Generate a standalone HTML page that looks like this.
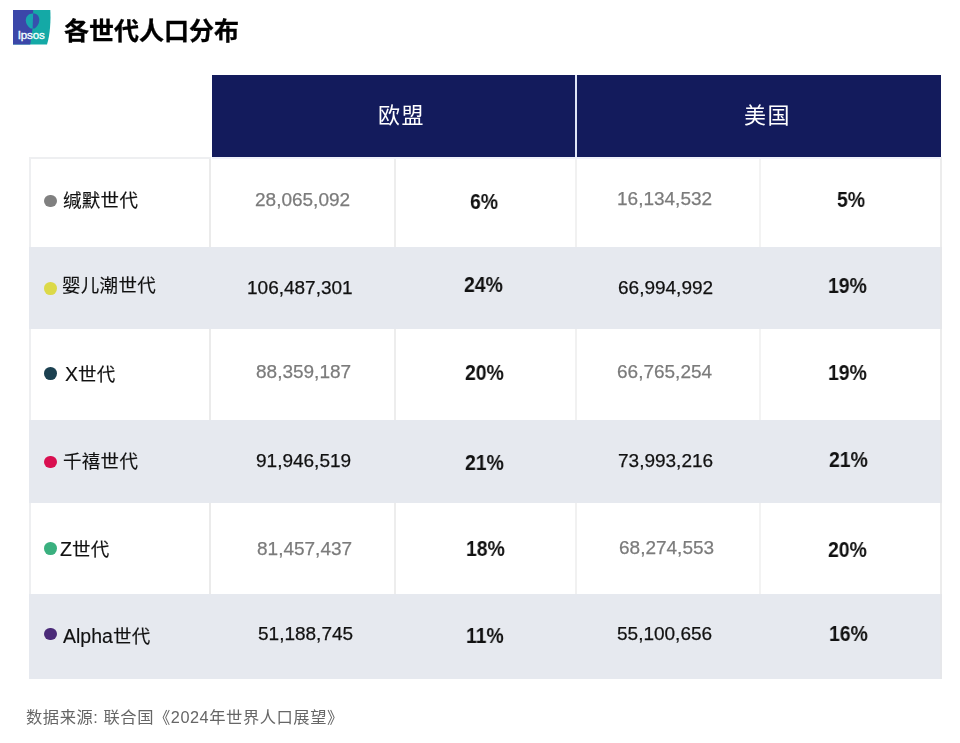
<!DOCTYPE html>
<html lang="zh-CN">
<head>
<meta charset="utf-8">
<title>各世代人口分布</title>
<style>
html,body{margin:0;padding:0;background:#fff;}
body{width:960px;height:743px;position:relative;overflow:hidden;font-family:"Liberation Sans","Noto Sans CJK SC",sans-serif;color:#111;}
.abs{position:absolute;}
.t{position:absolute;white-space:nowrap;line-height:1;will-change:transform;}
.hd{background:#131b5c;}
.gr{background:#e6e9ef;}
.vl{position:absolute;width:2px;background:#eeeeee;}
.hl{position:absolute;height:2px;background:#eeeeee;}
.dot{position:absolute;width:13px;height:13px;border-radius:50%;}
.lab{-webkit-text-stroke:0.15px currentColor;font-size:18.5px;letter-spacing:0.3px;color:#111;font-family:"Noto Sans CJK SC",sans-serif;}
.lab span{font-family:"Liberation Sans",sans-serif;font-size:19.5px;letter-spacing:0;}
.num{font-size:19px;-webkit-text-stroke:0.25px currentColor;}
.g{color:#7b7b7b;}
.k{color:#111;}
.pct{font-size:22px;font-weight:bold;color:#111;transform:scaleX(0.88);transform-origin:0 0;}
.hdt{font-size:22px;letter-spacing:1.5px;color:#fff;font-family:"Noto Sans CJK SC",sans-serif;}
.ttl{font-size:25px;font-weight:bold;color:#000;-webkit-text-stroke:0.3px #000;font-family:"Noto Sans CJK SC",sans-serif;}
.foot{font-size:16.3px;letter-spacing:0.55px;color:#666;}
</style>
</head>
<body>
<svg class="abs" style="left:13px;top:10px" width="39" height="36" viewBox="0 0 39 36">
  <path d="M0 0 H37.3 C37.9 10 37.2 24 34 34.6 H0 Z" fill="#14a9a6"/>
  <path d="M0 0 H20.2 L19.6 18 L17.2 34.6 H0 Z" fill="#3b47a9"/>
  <path d="M20.1 3.6 C16 3.4 12.8 6.2 12.8 10.6 C12.8 14 15 16.6 17.6 18.6 L19.8 18.6 Z" fill="#18a5b0"/>
  <path d="M20.1 3.4 C24 3.3 26.3 6 26.3 10 C26.3 14 24 16.6 21.6 18.4 L19.8 18.4 Z" fill="#3650ad"/>
  <text x="4.7" y="29" font-family="Liberation Sans" font-size="11.6" fill="#f2ffff" stroke="#f2ffff" stroke-width="0.35" letter-spacing="-0.15">Ipsos</text>
</svg>
<div class="t ttl" style="left:63.6px;top:16.7px">各世代人口分布</div>
<div class="abs hd" style="left:212px;top:74.5px;width:363px;height:82px"></div>
<div class="abs hd" style="left:577px;top:74.5px;width:364px;height:82px"></div>
<div class="t hdt" style="left:378.4px;top:101.9px">欧盟</div>
<div class="t hdt" style="left:744.0px;top:101.7px">美国</div>
<div class="abs gr" style="left:29px;top:247px;width:911px;height:82px"></div>
<div class="abs gr" style="left:29px;top:420px;width:911px;height:83px"></div>
<div class="abs gr" style="left:29px;top:593.5px;width:911px;height:85px"></div>
<div class="abs" style="left:29px;top:157px;width:2px;height:90px;background:#eeeff1"></div>
<div class="abs" style="left:209px;top:157px;width:2px;height:90px;background:#ebebeb"></div>
<div class="abs" style="left:393.5px;top:157px;width:2px;height:90px;background:#ededed"></div>
<div class="abs" style="left:575px;top:157px;width:2px;height:90px;background:#f1f1f1"></div>
<div class="abs" style="left:759px;top:157px;width:2px;height:90px;background:#f3f3f3"></div>
<div class="abs" style="left:940px;top:157px;width:2px;height:90px;background:#ececec"></div>
<div class="abs" style="left:29px;top:329px;width:2px;height:91px;background:#eeeff1"></div>
<div class="abs" style="left:209px;top:329px;width:2px;height:91px;background:#ebebeb"></div>
<div class="abs" style="left:393.5px;top:329px;width:2px;height:91px;background:#ededed"></div>
<div class="abs" style="left:575px;top:329px;width:2px;height:91px;background:#f1f1f1"></div>
<div class="abs" style="left:759px;top:329px;width:2px;height:91px;background:#f3f3f3"></div>
<div class="abs" style="left:940px;top:329px;width:2px;height:91px;background:#ececec"></div>
<div class="abs" style="left:29px;top:503px;width:2px;height:90.5px;background:#eeeff1"></div>
<div class="abs" style="left:209px;top:503px;width:2px;height:90.5px;background:#ebebeb"></div>
<div class="abs" style="left:393.5px;top:503px;width:2px;height:90.5px;background:#ededed"></div>
<div class="abs" style="left:575px;top:503px;width:2px;height:90.5px;background:#f1f1f1"></div>
<div class="abs" style="left:759px;top:503px;width:2px;height:90.5px;background:#f3f3f3"></div>
<div class="abs" style="left:940px;top:503px;width:2px;height:90.5px;background:#ececec"></div>
<div class="abs" style="left:940px;top:247px;width:2px;height:82px;background:#e6e7ea"></div>
<div class="abs" style="left:940px;top:420px;width:2px;height:83px;background:#e6e7ea"></div>
<div class="abs" style="left:940px;top:593.5px;width:2px;height:85.0px;background:#e6e7ea"></div>
<div class="abs" style="left:29px;top:157px;width:182px;height:2px;background:#eeeff1"></div>
<div class="abs" style="left:212px;top:156.5px;width:729px;height:2px;background:#f0f2fa"></div>
<div class="abs" style="left:575px;top:74.5px;width:2px;height:82px;background:#dfe5f7"></div>
<div class="dot" style="left:44.2px;top:194.6px;width:12.8px;height:12.8px;background:#808080"></div>
<div class="t lab" style="left:62.7px;top:190.0px">缄默世代</div>
<div class="t num g" style="left:255.45px;top:189.7px">28,065,092</div>
<div class="t pct" style="left:469.75px;top:190.7px">6%</div>
<div class="t num g" style="left:617.3px;top:188.7px">16,134,532</div>
<div class="t pct" style="left:836.95px;top:189.0px">5%</div>
<div class="dot" style="left:44.300000000000004px;top:281.90000000000003px;width:12.8px;height:12.8px;background:#dcd948"></div>
<div class="t lab" style="left:62.1px;top:275.3px">婴儿潮世代</div>
<div class="t num k" style="left:247.15px;top:277.6px">106,487,301</div>
<div class="t pct" style="left:464.35px;top:273.9px">24%</div>
<div class="t num k" style="left:618.05px;top:277.6px">66,994,992</div>
<div class="t pct" style="left:827.8px;top:274.5px">19%</div>
<div class="dot" style="left:44.300000000000004px;top:367.1px;width:12.8px;height:12.8px;background:#1b4050"></div>
<div class="t lab" style="left:65.0px;top:363.5px"><span>X</span>世代</div>
<div class="t num g" style="left:256.15px;top:361.7px">88,359,187</div>
<div class="t pct" style="left:465.2px;top:361.6px">20%</div>
<div class="t num g" style="left:616.95px;top:361.7px">66,765,254</div>
<div class="t pct" style="left:827.8px;top:361.6px">19%</div>
<div class="dot" style="left:44.2px;top:455.6px;width:12.8px;height:12.8px;background:#d90f50"></div>
<div class="t lab" style="left:63.2px;top:451.2px">千禧世代</div>
<div class="t num k" style="left:256.45px;top:451.0px">91,946,519</div>
<div class="t pct" style="left:465.0px;top:451.6px">21%</div>
<div class="t num k" style="left:618.0px;top:450.7px">73,993,216</div>
<div class="t pct" style="left:828.55px;top:448.9px">21%</div>
<div class="dot" style="left:44.300000000000004px;top:542.1px;width:12.8px;height:12.8px;background:#3ab07f"></div>
<div class="t lab" style="left:59.9px;top:538.5px"><span>Z</span>世代</div>
<div class="t num g" style="left:257.2px;top:539.1px">81,457,437</div>
<div class="t pct" style="left:465.5px;top:537.7px">18%</div>
<div class="t num g" style="left:618.75px;top:537.6px">68,274,553</div>
<div class="t pct" style="left:828.25px;top:538.6px">20%</div>
<div class="dot" style="left:44.300000000000004px;top:627.6px;width:12.8px;height:12.8px;background:#4a2a78"></div>
<div class="t lab" style="left:62.9px;top:625.7px"><span>Alpha</span>世代</div>
<div class="t num k" style="left:257.95px;top:624.1px">51,188,745</div>
<div class="t pct" style="left:466.0px;top:625.0px">11%</div>
<div class="t num k" style="left:617.2px;top:624.1px">55,100,656</div>
<div class="t pct" style="left:828.55px;top:623.0px">16%</div>
<div class="t foot" style="left:25.6px;top:709.0px">数据来源: 联合国《2024年世界人口展望》</div>
</body>
</html>
